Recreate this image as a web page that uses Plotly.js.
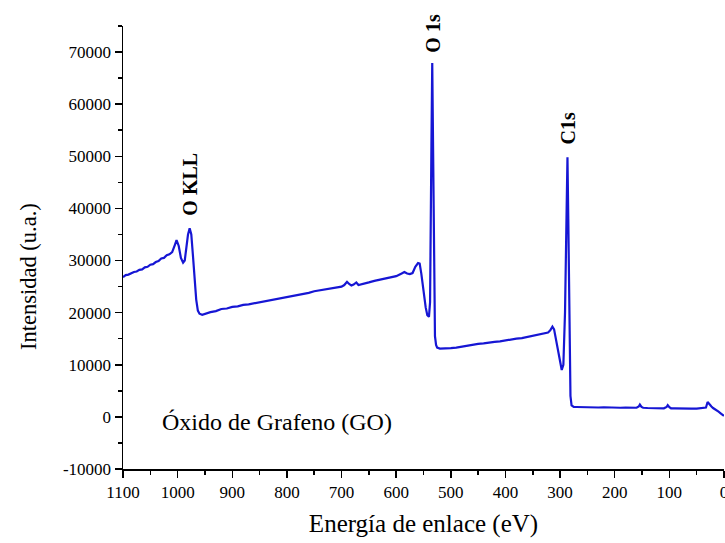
<!DOCTYPE html>
<html>
<head>
<meta charset="utf-8">
<script src="https://cdn.plot.ly/plotly-3.0.1.min.js"></script>
<style>html,body{margin:0;padding:0;background:#fff;}#chart{width:725px;height:543px;}</style>
</head>
<body>
<div id="chart"></div>
<script>
// Binding energy (eV) and intensity (a.u.)
const energy = [
  1100,1095,1090,1085,1080,1075,1070,1065,1060,1055,1050,1045,1040,1035,1030,1025,1020,1015,1010,
  1005,1002,998,994,990,987,984,981,978,975,972,969,966,963,960,955,950,945,940,
  930,920,910,900,890,880,870,860,850,840,830,820,810,800,790,780,770,760,750,740,
  730,720,710,700,695,690,686,682,678,673,669,660,650,640,630,620,610,600,590,585,
  580,575,570,565,560,557,554,550,546,543,540,538,537,535.5,534,532.5,531,529,527,525,
  520,510,500,490,480,470,460,450,440,430,420,410,400,390,380,370,360,350,340,330,
  322,318,314,311,308,304,300,297,294,291,288,286.5,285,283,281,279,275,
  270,260,250,240,230,220,210,200,190,180,170,160,156,154,151,148,140,130,120,110,
  105,103,100,97,90,80,70,60,50,40,33,30,27,23,20,15,10,5,0
];
const intensity = [
  26800,27200,27300,27600,27800,27900,28200,28300,28700,28800,29200,29300,29700,29900,30400,30500,31000,31200,31600,
  33000,33900,32800,30500,29600,30000,32500,35000,36200,35000,31000,26000,22500,20400,19800,19600,19800,20000,20100,
  20300,20700,20800,21100,21200,21500,21600,21800,22000,22100,22400,22500,22800,22900,23200,23400,23600,23800,24100,24300,
  24500,24700,24900,25000,25300,25900,25500,25200,25400,25800,25300,25500,25800,26100,26300,26600,26800,27000,27500,27800,
  27500,27400,27600,28800,29500,29400,27500,24000,21000,19500,19200,22000,30000,52000,67900,50000,25000,15500,13800,13300,
  13100,13100,13200,13300,13500,13600,13800,14000,14100,14300,14400,14500,14700,14800,15000,15100,15300,15500,15800,16000,
  16200,16600,17300,16800,15000,12500,10000,9000,10000,20000,40000,49800,38000,15000,4000,2200,1900,
  1900,1850,1900,1850,1800,1850,1800,1800,1750,1800,1750,1750,2000,2350,1900,1750,1700,1700,1700,1650,
  1900,2250,1850,1650,1650,1600,1650,1600,1600,1650,1800,2850,2400,2000,1700,1400,1000,600,200
];

// Axis ticks
const yTickVals = [-10000,0,10000,20000,30000,40000,50000,60000,70000];
const yTickText = ["-10000","0","10000","20000","30000","40000","50000","60000","70000"];
const xTickVals = [1100,1000,900,800,700,600,500,400,300,200,100,0];

// Peak labels
const peakNames = ["O KLL","O 1s","C1s"];
const peakEnergy = [977,532,286];
const peakLabelY = [44600,73600,55300];

const sampleName = "Óxido de Grafeno (GO)";
const yTitle = "Intensidad (u.a.)";
const xTitle = "Energía de enlace (eV)";

const serif = "'Liberation Serif'";

const trace = {
  x: energy, y: intensity, type: "scatter", mode: "lines",
  line: {color: "#1616d4", width: 2.2},
  hoverinfo: "x+y"
};

const annotations = peakNames.map((t, i) => ({
  x: peakEnergy[i], y: peakLabelY[i], xref: "x", yref: "y",
  text: "<b>" + t + "</b>", showarrow: false, textangle: -90,
  xanchor: "center", yanchor: "middle",
  font: {family: serif, size: 20, color: "#000"}
}));
annotations.push({
  x: 0.061, y: 0.105, xref: "paper", yref: "paper",
  text: sampleName, showarrow: false, xanchor: "left", yanchor: "middle",
  font: {family: serif, size: 24, color: "#000"}
});
// y-axis title, placed where the reference has it (below the plot centre)
annotations.push({
  x: 28, y: 277, xref: "pixel", yref: "pixel",
  text: yTitle, showarrow: false, textangle: -90,
  xanchor: "center", yanchor: "middle",
  font: {family: serif, size: 22.5, color: "#000"}
});

const axisCommon = {
  showline: true, linecolor: "#000", linewidth: 1.5,
  ticks: "outside", ticklen: 7, tickwidth: 1.5, tickcolor: "#000",
  showgrid: false, zeroline: false, mirror: false,
  ticklabeloverflow: "allow",
  tickfont: {family: serif, size: 17, color: "#000"}
};

const layout = {
  width: 725, height: 543,
  margin: {l: 123, r: 1, t: 26, b: 74},
  paper_bgcolor: "#fff", plot_bgcolor: "#fff",
  showlegend: false,
  font: {family: serif, color: "#000"},
  xaxis: Object.assign({}, axisCommon, {
    range: [1100, 0], autorange: false,
    tickmode: "array", tickvals: xTickVals,
    minor: {ticks: "outside", ticklen: 4, tickwidth: 1.5, tickcolor: "#000", dtick: 50, showgrid: false},
    title: {text: xTitle, font: {family: serif, size: 25, color: "#000"}, standoff: 13}
  }),
  yaxis: Object.assign({}, axisCommon, {
    range: [-10000, 75000], autorange: false,
    tickmode: "array", tickvals: yTickVals, ticktext: yTickText,
    minor: {ticks: "outside", ticklen: 4, tickwidth: 1.5, tickcolor: "#000", dtick: 5000, showgrid: false}
  }),
  annotations: annotations
};

// convert pixel-positioned annotations to paper coordinates
const pw = layout.width - layout.margin.l - layout.margin.r;
const ph = layout.height - layout.margin.t - layout.margin.b;
layout.annotations.forEach(a => {
  if (a.xref === "pixel") {
    a.xref = "paper"; a.yref = "paper";
    a.x = (a.x - layout.margin.l) / pw;
    a.y = 1 - (a.y - layout.margin.t) / ph;
  }
});

Plotly.newPlot("chart", [trace], layout, {staticPlot: true, displayModeBar: false});
</script>
</body>
</html>
